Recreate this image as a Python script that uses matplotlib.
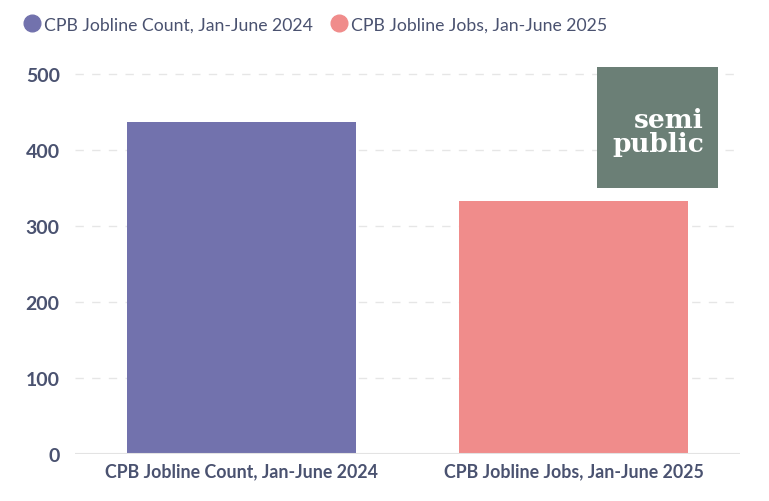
import matplotlib
matplotlib.use("Agg")
import matplotlib.pyplot as plt
from matplotlib.patches import Rectangle
from matplotlib.lines import Line2D

categories = ["CPB Jobline Count, Jan-June 2024", "CPB Jobline Jobs, Jan-June 2025"]
values = [437, 333]
colors = ["#7272ad", "#f08c8b"]
yticks = [0, 100, 200, 300, 400, 500]

plt.rcParams['font.family'] = ['Lato', 'DejaVu Sans']
txt = "#4a5270"

fig = plt.figure(figsize=(7.69, 5.02), dpi=100)
ax = fig.add_axes([75/769, 47/502, 665/769, 390/502])
x = list(range(len(categories)))
ax.bar(x, values, width=0.69, color=colors, zorder=3)
ax.set_xlim(-0.5, 1.5)
ax.set_ylim(0, 513)
ax.set_yticks(yticks)
ax.set_yticklabels([str(t) for t in yticks], fontsize=14, color=txt, fontweight='bold')
ax.set_xticks(x)
ax.set_xticklabels(categories, fontsize=12.8, color=txt, fontweight='bold')
ax.tick_params(axis='y', length=0, pad=11)
ax.tick_params(axis='x', length=0, pad=6)
for s in ax.spines.values():
    s.set_visible(False)
for t in yticks[1:]:
    ax.axhline(t, color="#e6e6e6", lw=1, ls=(0, (6, 6)), zorder=1)
ax.axhline(0, color="#e3e3e3", lw=1.5, zorder=4)

# legend
handles = [Line2D([0], [0], marker='o', ls='', markersize=12, markerfacecolor=c, markeredgecolor=c) for c in colors]
fig.legend(handles, categories, loc='upper left', bbox_to_anchor=(0.01, 0.997), ncol=2,
           frameon=False, fontsize=12.7, labelcolor=txt, handletextpad=0.15, columnspacing=1.0,
           handlelength=1.0)

# logo
fig.patches.append(Rectangle((597/769, (502-189)/502), 121/769, 121/502, transform=fig.transFigure,
                             facecolor="#6b7f76", edgecolor='none', zorder=10))
fig.text(704/769, (502-152)/502, "semi\npublic", ha='right', va='baseline', multialignment='right',
         color='white', fontsize=19, fontweight='bold', family=['DejaVu Serif'],
         linespacing=0.95, zorder=11)

fig.savefig("out.png", dpi=100)
